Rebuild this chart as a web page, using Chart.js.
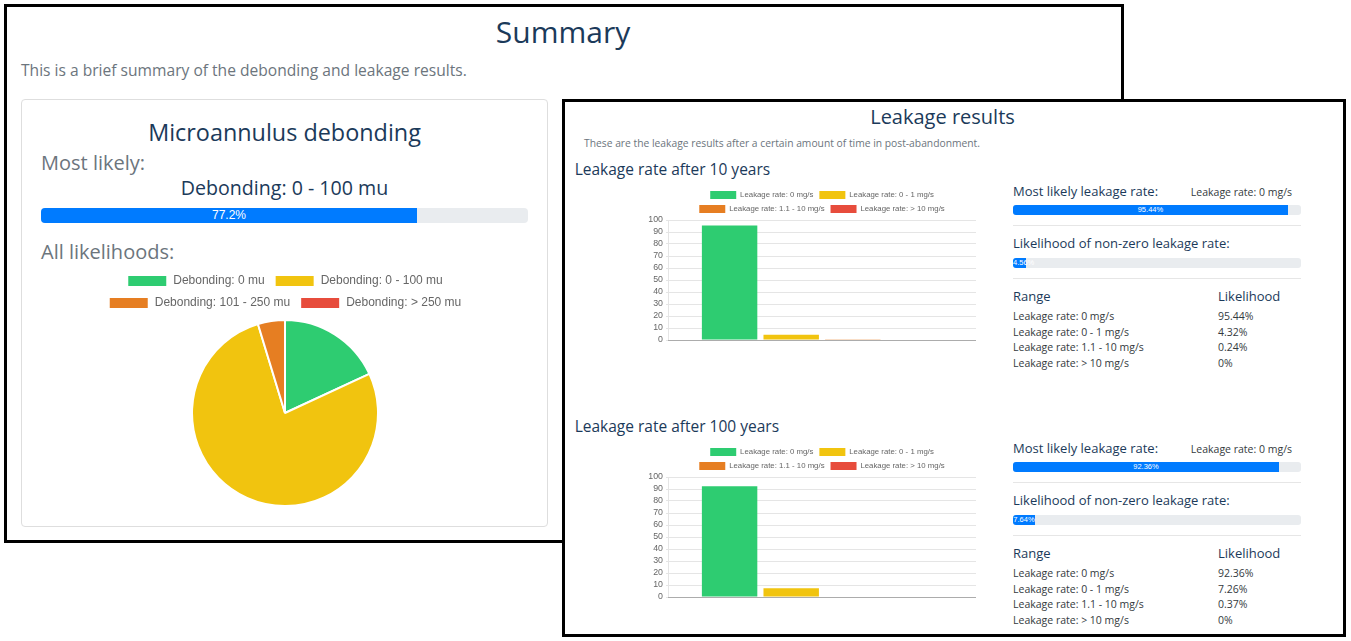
<!DOCTYPE html>
<html>
<head>
<meta charset="utf-8">
<title>Summary</title>
<script src="https://cdn.jsdelivr.net/npm/chart.js@4.4.0/dist/chart.umd.min.js"></script>
<style>
  body { margin: 0; width: 1351px; height: 641px; overflow: hidden; background: #fff; font-family: 'Open Sans', sans-serif; position: relative; }
  .abs { position: absolute; white-space: nowrap; }
  .panel { position: absolute; box-sizing: border-box; border: 3px solid #000; background: #fff; }
  .card { position: absolute; box-sizing: border-box; border: 1px solid #dedede; border-radius: 4px; }
  .progress { position: absolute; background: #e9ecef; overflow: hidden; }
  .progress-bar { height: 100%; background: #007bff; color: #fff; text-align: center; white-space: nowrap; font-family: 'Liberation Sans', Arial, sans-serif; }
  .hr { position: absolute; height: 1px; background: #e6e6e6; }
  .chart-box { position: absolute; }
</style>
</head>
<body>
<div class="panel" style="left:4px; top:4px; width:1120px; height:539px;"></div>
<div class="card" style="left:21px; top:99px; width:527px; height:428px;"></div>
<div class="chart-box" style="left:65px; top:264.5px; width:440px; height:242px;"><canvas id="debondingChart"></canvas></div>
<div id="panel1"></div>

<div class="panel" style="left:562px; top:99px; width:784px; height:538px;"></div>
<div class="chart-box" style="left:648px; top:185px; width:328px; height:179px;"><canvas id="leakChart10"></canvas></div>
<div class="chart-box" style="left:648px; top:442px; width:328px; height:179px;"><canvas id="leakChart100"></canvas></div>
<div id="panel2"></div>

<script>
const debondingLabels = ['Debonding: 0 mu', 'Debonding: 0 - 100 mu', 'Debonding: 101 - 250 mu', 'Debonding: > 250 mu'];
const debondingValues = [18.1, 77.2, 4.7, 0];

const leakageLabels = ['Leakage rate: 0 mg/s', 'Leakage rate: 0 - 1 mg/s', 'Leakage rate: 1.1 - 10 mg/s', 'Leakage rate: > 10 mg/s'];
const leakage10 = [95.44, 4.32, 0.24, 0];
const leakage100 = [92.36, 7.26, 0.37, 0];
const leakageYears = [10, 100];

const rangeColors = ['#2ecc71', '#f1c40f', '#e67e22', '#e74c3c'];

const navy = '#1b3a5a';
const grey = '#6c757d';
const dark = '#343a40';

Chart.defaults.font.family = "'Liberation Sans', Arial, sans-serif";
Chart.defaults.color = '#666';

// text placed by its baseline
function txt(parent, str, x, baseline, size, color, align) {
    const el = document.createElement('div');
    el.className = 'abs';
    el.textContent = str;
    el.style.left = x + 'px';
    el.style.top = (baseline - 0.888 * size) + 'px';
    el.style.fontSize = size + 'px';
    el.style.lineHeight = size + 'px';
    el.style.color = color;
    if (align === 'center') el.style.transform = 'translateX(-50%)';
    if (align === 'right') el.style.transform = 'translateX(-100%)';
    parent.appendChild(el);
}

function progress(parent, value, x, y, w, h, fontSize, radius) {
    const bar = document.createElement('div');
    bar.className = 'progress';
    bar.style.cssText += `left:${x}px; top:${y}px; width:${w}px; height:${h}px; border-radius:${radius}px;`;
    const fill = document.createElement('div');
    fill.className = 'progress-bar';
    fill.style.width = value + '%';
    fill.style.fontSize = fontSize + 'px';
    fill.style.lineHeight = h + 'px';
    fill.textContent = value + '%';
    bar.appendChild(fill);
    parent.appendChild(bar);
}

function hr(parent, x, y, w) {
    const el = document.createElement('div');
    el.className = 'hr';
    el.style.cssText += `left:${x}px; top:${y}px; width:${w}px;`;
    parent.appendChild(el);
}

// ---- summary panel ----
const p1 = document.getElementById('panel1');
txt(p1, 'Summary', 563, 43.3, 30, navy, 'center');
txt(p1, 'This is a brief summary of the debonding and leakage results.', 21, 76.7, 15.6, grey);
txt(p1, 'Microannulus debonding', 284.5, 141.7, 23.4, navy, 'center');
txt(p1, 'Most likely:', 41, 171, 20, grey);

const topIdx = debondingValues.indexOf(Math.max(...debondingValues));
txt(p1, debondingLabels[topIdx], 284.5, 195, 19.6, navy, 'center');
progress(p1, debondingValues[topIdx], 41, 208, 487, 15, 12, 4);
txt(p1, 'All likelihoods:', 41, 260, 20, grey);

new Chart(document.getElementById('debondingChart'), {
    type: 'pie',
    data: {
        labels: debondingLabels,
        datasets: [{
            data: debondingValues,
            backgroundColor: rangeColors,
            borderColor: '#fff',
            borderWidth: 2
        }]
    },
    options: {
        responsive: true,
        maintainAspectRatio: false,
        animation: false,
        plugins: {
            legend: {
                position: 'top',
                labels: { boxWidth: 40, boxHeight: 12, padding: 10, font: { size: 12 } }
            },
            tooltip: { enabled: false }
        }
    }
});

// ---- leakage panel ----
const p2 = document.getElementById('panel2');
txt(p2, 'Leakage results', 942.5, 124.7, 20, navy, 'center');
txt(p2, 'These are the leakage results after a certain amount of time in post-abandonment.', 584, 147, 10.3, grey);

// legend sits a little tighter on the plot than the default
const legendTrim = {
    id: 'legendTrim',
    afterInit(chart) {
        const fit = chart.legend.fit;
        chart.legend.fit = function() {
            fit.call(this);
            this.height -= 3;
        };
    }
};

function drawLeakage(canvasId, values) {
    new Chart(document.getElementById(canvasId), {
        type: 'bar',
        data: {
            labels: [''],
            datasets: leakageLabels.map((label, i) => ({
                label: label,
                data: [values[i]],
                backgroundColor: rangeColors[i],
                borderWidth: 0
            }))
        },
        options: {
            responsive: true,
            maintainAspectRatio: false,
            animation: false,
            layout: { padding: { bottom: 16 } },
            datasets: { bar: { categoryPercentage: 0.8, barPercentage: 0.9 } },
            plugins: {
                legend: {
                    fullSize: false,
                    labels: { boxWidth: 26, boxHeight: 8, padding: 6, font: { size: 7.8 } }
                },
                tooltip: { enabled: false }
            },
            scales: {
                x: {
                    grid: { display: false },
                    ticks: { display: false },
                    border: { color: 'rgba(0,0,0,0.25)' }
                },
                y: {
                    min: 0,
                    max: 100,
                    ticks: { stepSize: 10, autoSkip: false, font: { size: 8.8 }, padding: 3 },
                    grid: { color: 'rgba(0,0,0,0.1)', tickLength: 2 },
                    border: { color: 'rgba(0,0,0,0.1)' },
                    afterFit: function(scale) { scale.width = 20; }
                }
            }
        },
        plugins: [legendTrim]
    });
}

function leakageBlock(years, values, dy) {
    txt(p2, 'Leakage rate after ' + years + ' years', 574.7, 175.7 + dy, 15.5, navy);

    const best = values.indexOf(Math.max(...values));
    txt(p2, 'Most likely leakage rate:', 1013, 196.7 + dy, 13, navy);
    txt(p2, leakageLabels[best], 1292, 196.5 + dy, 10.5, dark, 'right');
    progress(p2, values[best], 1013, 205 + dy, 288, 10, 7.5, 3);
    hr(p2, 1013, 225 + dy, 288);

    const nonZero = +(100 - values[0]).toFixed(2);
    txt(p2, 'Likelihood of non-zero leakage rate:', 1013, 249 + dy, 13, navy);
    progress(p2, nonZero, 1013, 257.5 + dy, 288, 10, 7.5, 3);
    hr(p2, 1013, 278 + dy, 288);

    txt(p2, 'Range', 1013, 301.7 + dy, 13, navy);
    txt(p2, 'Likelihood', 1218, 301.7 + dy, 13, navy);
    leakageLabels.forEach((label, i) => {
        txt(p2, label, 1013, 320.8 + i * 15.5 + dy, 10.5, dark);
        txt(p2, values[i] + '%', 1218, 320.8 + i * 15.5 + dy, 10.5, dark);
    });
}

leakageBlock(leakageYears[0], leakage10, 0);
leakageBlock(leakageYears[1], leakage100, 257);
drawLeakage('leakChart10', leakage10);
drawLeakage('leakChart100', leakage100);
</script>
</body>
</html>
